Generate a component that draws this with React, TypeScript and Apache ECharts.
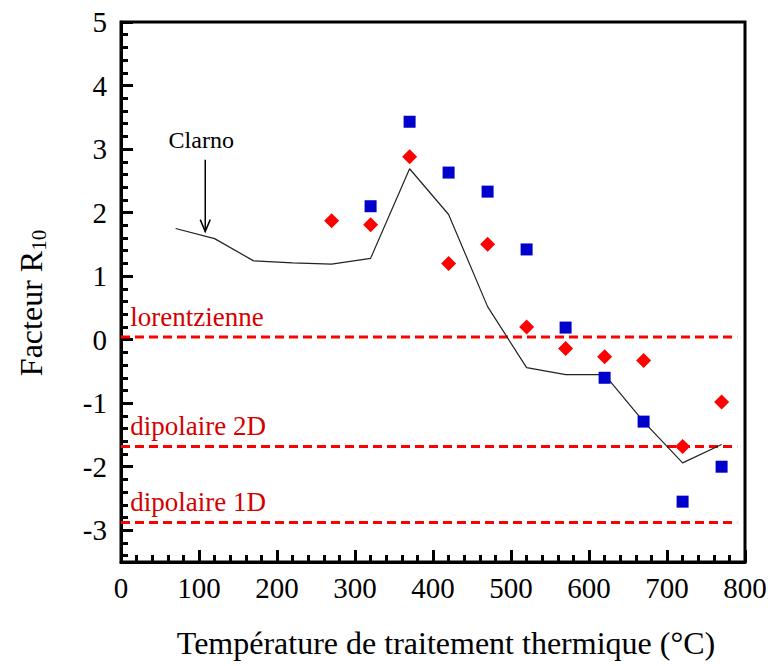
import React, { useEffect, useRef } from 'react';
import * as echarts from 'echarts';

const squareX = [320, 370, 420, 470, 520, 570, 620, 670, 720, 770];
const squareY = [2.1, 3.43, 2.63, 2.33, 1.42, 0.19, -0.6, -1.29, -2.55, -2.0];
const diamondX = [270, 320, 370, 420, 470, 520, 570, 620, 670, 720, 770];
const diamondY = [1.87, 1.81, 2.88, 1.2, 1.5, 0.2, -0.14, -0.27, -0.33, -1.68, -0.98];
const clarnoX = [70, 120, 170, 220, 270, 320, 370, 420, 470, 520, 570, 620, 670, 720, 770];
const clarnoY = [1.75, 1.59, 1.24, 1.21, 1.19, 1.28, 2.69, 1.97, 0.52, -0.44, -0.55, -0.55, -1.29, -1.94, -1.65];
const refNames = ['lorentzienne', 'dipolaire 2D', 'dipolaire 1D'];
const refY = [0.04, -1.68, -2.88];
const refXRange = [0, 790];
const clarnoLabel = 'Clarno';
const arrowX = 108;
const arrowYRange = [2.83, 1.7];
const yTicks = [-3, -2, -1, 0, 1, 2, 3, 4, 5];
const yRange = [-3.5, 5];
const yMinorSteps = [0.2, 0.4, 0.6, 0.8];
const yMinorTicks = [-4, ...yTicks]
  .flatMap((k) => yMinorSteps.map((s) => Math.round((k + s) * 10) / 10))
  .filter((v) => v > yRange[0] && v < yRange[1]);

const FONT = "'Liberation Serif', 'Times New Roman', serif";

export default function App() {
  const ref = useRef<HTMLDivElement>(null);
  useEffect(() => {
    if (!ref.current) return;
    const chart = echarts.init(ref.current, undefined, { renderer: 'svg' });
    const series: any[] = [
      {
        type: 'line',
        data: clarnoX.map((x, i) => [x, clarnoY[i]]),
        symbol: 'none',
        lineStyle: { color: '#222', width: 1.2 },
        z: 2,
      },
      ...refY.map((y) => ({
        type: 'line',
        data: [[refXRange[0], y], [refXRange[1], y]],
        symbol: 'none',
        lineStyle: { color: '#ff0000', width: 3, type: [9, 5] },
        z: 1,
      })),
      {
        type: 'scatter',
        data: squareX.map((x, i) => [x, squareY[i]]),
        symbol: 'rect',
        symbolSize: 12,
        itemStyle: { color: '#0000cc', opacity: 1 },
        z: 3,
      },
      {
        type: 'scatter',
        data: diamondX.map((x, i) => [x, diamondY[i]]),
        symbol: 'diamond',
        symbolSize: 15,
        itemStyle: { color: '#ff0000', opacity: 1 },
        z: 3,
      },
    ];
    const option: any = {
      animation: false,
      backgroundColor: '#fff',
      textStyle: { fontFamily: FONT },
      grid: {
        left: 121,
        right: 23,
        top: 22,
        bottom: 104,
        show: true,
        borderColor: '#000',
        borderWidth: 3,
        outerBoundsMode: 'none',
        containLabel: false,
      },
      xAxis: {
        type: 'value',
        min: 0,
        max: 800,
        interval: 100,
        axisLine: { show: true, onZero: false, lineStyle: { color: '#000', width: 3 } },
        axisTick: { show: true, inside: true, length: 12, lineStyle: { color: '#000', width: 3 } },
        minorTick: { show: true, splitNumber: 5, length: 7, lineStyle: { color: '#000', width: 3 } },
        splitLine: { show: false },
        minorSplitLine: { show: false },
        axisLabel: { color: '#000', fontFamily: FONT, fontSize: 29, margin: 11 },
      },
      yAxis: [
        {
          type: 'value',
          min: yRange[0],
          max: yRange[1],
          axisLine: { show: true, onZero: false, lineStyle: { color: '#000', width: 3 } },
          axisTick: {
            show: true,
            inside: true,
            length: 12,
            customValues: yTicks,
            lineStyle: { color: '#000', width: 3 },
          },
          splitLine: { show: false },
          axisLabel: {
            color: '#000',
            fontFamily: FONT,
            fontSize: 29,
            margin: 14,
            customValues: yTicks,
          },
        },
        {
          type: 'value',
          position: 'left',
          offset: 0,
          min: yRange[0],
          max: yRange[1],
          axisLine: { show: false, onZero: false },
          axisTick: {
            show: true,
            inside: true,
            length: 7,
            customValues: yMinorTicks,
            lineStyle: { color: '#000', width: 3 },
          },
          splitLine: { show: false },
          axisLabel: { show: false },
        },
      ],
      series,
    };
    chart.setOption(option);

    const px = (x: number, y: number) => chart.convertToPixel({ gridIndex: 0 }, [x, y]) as number[];
    const a0 = px(arrowX, arrowYRange[0]);
    const a1 = px(arrowX, arrowYRange[1]);
    const graphics: any[] = [
      {
        type: 'text',
        x: a0[0] - 4,
        y: a0[1] - 8,
        style: { text: clarnoLabel, fontFamily: FONT, fontSize: 24, fill: '#000', align: 'center', verticalAlign: 'bottom' },
      },
      {
        type: 'line',
        shape: { x1: a0[0], y1: a0[1], x2: a1[0], y2: a1[1] },
        style: { stroke: '#000', lineWidth: 1.5 },
      },
      {
        type: 'polyline',
        shape: { points: [[a1[0] - 5, a1[1] - 12], [a1[0], a1[1]], [a1[0] + 5, a1[1] - 12]] },
        style: { stroke: '#000', lineWidth: 1.5, fill: null },
      },
      ...refY.map((y, i) => {
        const p = px(12, y);
        return {
          type: 'text',
          x: p[0],
          y: p[1] - 7,
          style: { text: refNames[i], fontFamily: FONT, fontSize: 27, fill: '#d40000', align: 'left', verticalAlign: 'bottom' },
        };
      }),
      {
        type: 'text',
        x: 446,
        y: 643,
        style: {
          text: 'Température de traitement thermique (°C)',
          fontFamily: FONT,
          fontSize: 32,
          fill: '#000',
          align: 'center',
          verticalAlign: 'middle',
        },
      },
      {
        type: 'text',
        x: 31,
        y: 303,
        rotation: Math.PI / 2,
        style: {
          text: '{a|Facteur R}{b|10}',
          align: 'center',
          verticalAlign: 'middle',
          rich: {
            a: { fontFamily: FONT, fontSize: 32, fill: '#000', lineHeight: 36 },
            b: { fontFamily: FONT, fontSize: 21, fill: '#000', lineHeight: 20, verticalAlign: 'bottom' },
          },
        },
      },
    ];
    chart.setOption({ graphic: graphics });
    return () => chart.dispose();
  }, []);
  return <div ref={ref} style={{ position: 'fixed', left: 0, top: 0, width: 768, height: 666 }} />;
}
